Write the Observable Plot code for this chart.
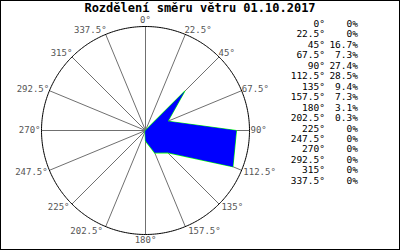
<!DOCTYPE html>
<html><head><meta charset="utf-8">
<script src="https://cdn.jsdelivr.net/npm/d3@7"></script>
<script src="https://cdn.jsdelivr.net/npm/@observablehq/plot@0.6"></script>
<style>
body{margin:0;background:#fff}
#wrap{position:relative;width:400px;height:250px;overflow:hidden;background:#fff;font-family:"DejaVu Sans Mono",monospace}
#chart{position:absolute;left:0;top:0}
#border{position:absolute;left:0;top:0;width:398px;height:248px;border:1px solid #000;pointer-events:none}
#title{position:absolute;left:0;top:1px;width:400px;text-align:center;font-weight:bold;font-size:12px;line-height:14px;color:#000}
.row{position:absolute;left:0;width:400px;height:10px;font-size:9.5px;line-height:10px;color:#000}
.row span{position:absolute;top:0;white-space:pre}
</style></head><body>
<div id="wrap"><div id="chart"></div><div id="title"></div><div id="table"></div><div id="border"></div></div>
<script>
const title = "Rozdělení směru větru 01.10.2017";
const directions = [0, 22.5, 45, 67.5, 90, 112.5, 135, 157.5, 180, 202.5, 225, 247.5, 270, 292.5, 315, 337.5];
const dirLabels = ["0°", "22.5°", "45°", "67.5°", "90°", "112.5°", "135°", "157.5°", "180°", "202.5°", "225°", "247.5°", "270°", "292.5°", "315°", "337.5°"];
const shares = [0, 0, 16.7, 7.3, 27.4, 28.5, 9.4, 7.3, 3.1, 0.3, 0, 0, 0, 0, 0, 0];
const shareLabels = ["0%", "0%", "16.7%", "7.3%", "27.4%", "28.5%", "9.4%", "7.3%", "3.1%", "0.3%", "0%", "0%", "0%", "0%", "0%", "0%"];

const rad = d => d * Math.PI / 180;
const rows = directions.map((d, i) => ({dir: d, share: shares[i], label: dirLabels[i], pct: shareLabels[i]}));
const rMax = d3.max(shares) * 1.1;
const circleAngles = d3.range(0, 360, 1);
const font = "DejaVu Sans Mono, monospace";

const labelMarks = rows.map(d => {
  const s = Math.sin(rad(d.dir)), c = Math.cos(rad(d.dir));
  const side = Math.abs(s) < 1e-6 ? 0 : Math.sign(s);
  return Plot.text([d], {
    x: r => rMax * Math.sin(rad(r.dir)),
    y: r => rMax * Math.cos(rad(r.dir)),
    text: "label",
    textAnchor: side > 0 ? "start" : side < 0 ? "end" : "middle",
    dx: side * (1 - 2 * c),
    dy: side === 0 ? -6 * c : -5 * c,
    fill: "#555",
    fontSize: 9,
    fontFamily: font
  });
});

const chart = Plot.plot({
  width: 400,
  height: 250,
  marginLeft: 41,
  marginRight: 151,
  marginTop: 26,
  marginBottom: 16,
  x: {domain: [-rMax, rMax], axis: null},
  y: {domain: [-rMax, rMax], axis: null},
  style: {background: "transparent", fontFamily: font},
  marks: [
    Plot.link(rows, {
      x1: 0, y1: 0,
      x2: d => rMax * Math.sin(rad(d.dir)),
      y2: d => rMax * Math.cos(rad(d.dir)),
      stroke: "#707070", strokeWidth: 1
    }),
    Plot.line(circleAngles, {
      x: a => rMax * Math.sin(rad(a)),
      y: a => rMax * Math.cos(rad(a)),
      curve: "linear-closed", stroke: "#000", strokeWidth: 1
    }),
    Plot.line(rows, {
      x: d => d.share * Math.sin(rad(d.dir)),
      y: d => d.share * Math.cos(rad(d.dir)),
      curve: "linear-closed", stroke: "#00ff00", strokeWidth: 1.2
    }),
    Plot.line(rows, {
      x: d => d.share * Math.sin(rad(d.dir)),
      y: d => d.share * Math.cos(rad(d.dir)),
      curve: "linear-closed", fill: "#0000ff", stroke: "none"
    }),
    ...labelMarks
  ]
});
document.getElementById("chart").appendChild(chart);
document.getElementById("title").textContent = title;

const table = d3.select("#table");
rows.forEach((d, i) => {
  const row = table.append("div").attr("class", "row").style("top", (19 + i * 10.45) + "px");
  row.append("span").style("right", "75px").text(d.label);
  row.append("span").style("right", "42px").text(d.pct);
});
</script>
</body></html>
